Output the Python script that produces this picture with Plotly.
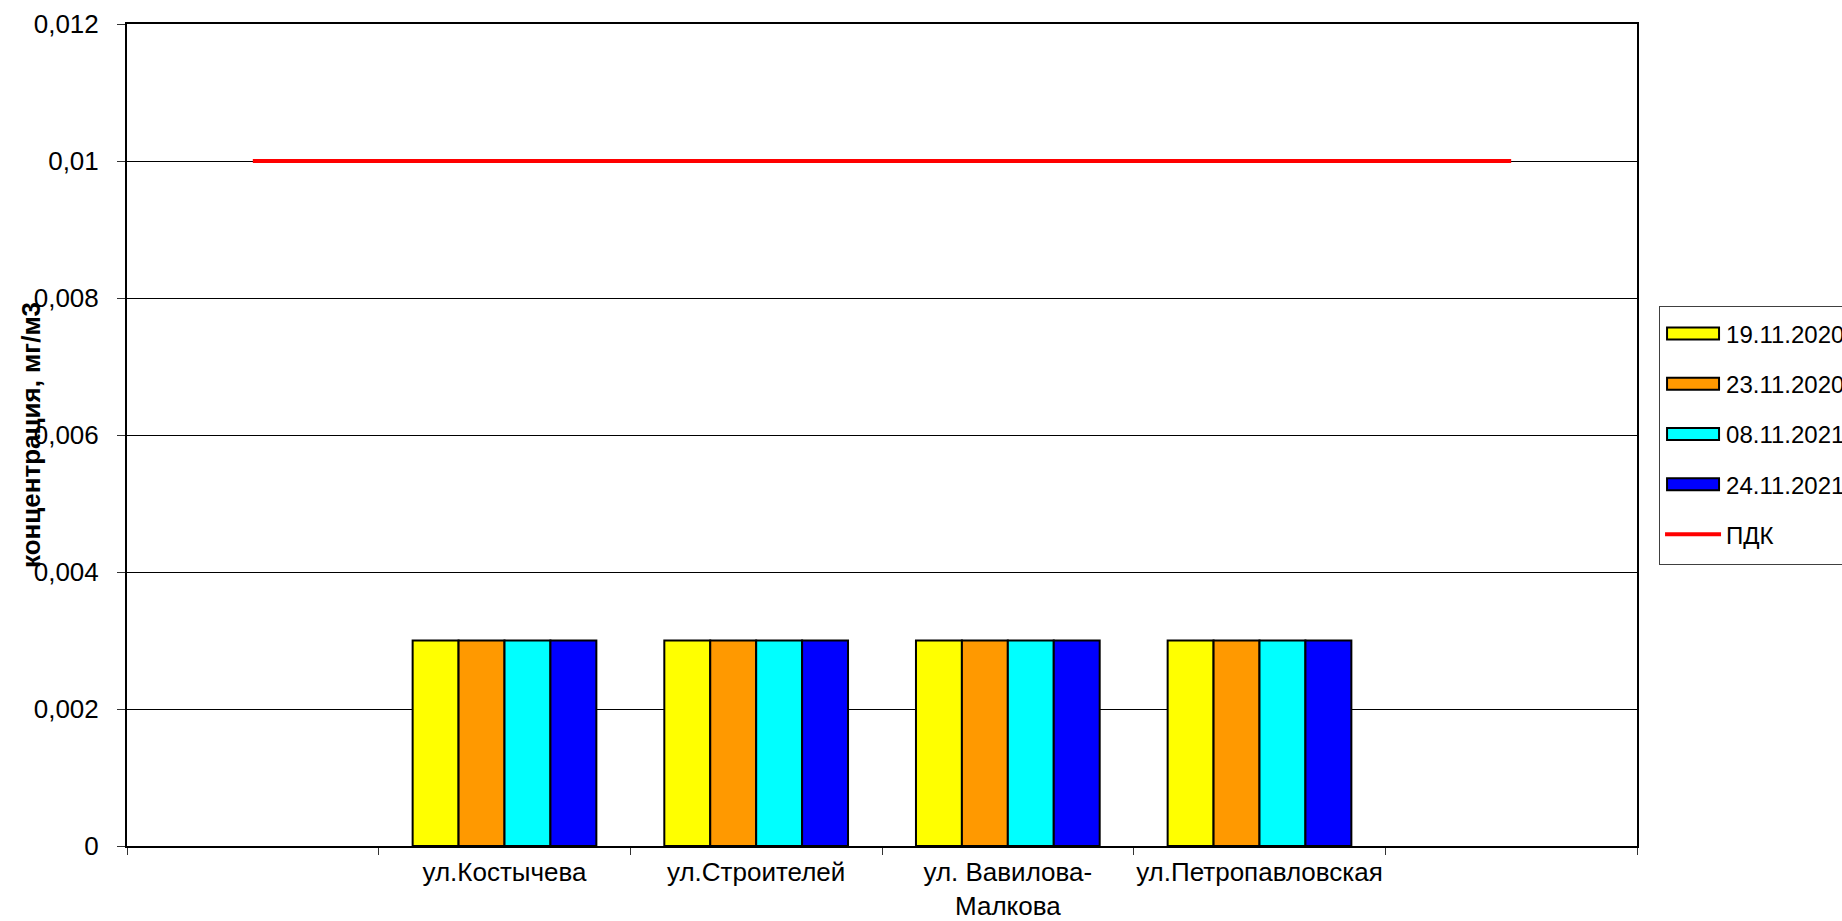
import plotly.graph_objects as go

# ---- data ----
categories = [" ", "ул.Костычева", "ул.Строителей", "ул. Вавилова-<br>Малкова", "ул.Петропавловская", "  "]
series_names = ["19.11.2020", "23.11.2020", "08.11.2021", "24.11.2021"]
s_19_11_2020 = [None, 0.003, 0.003, 0.003, 0.003, None]
s_23_11_2020 = [None, 0.003, 0.003, 0.003, 0.003, None]
s_08_11_2021 = [None, 0.003, 0.003, 0.003, 0.003, None]
s_24_11_2021 = [None, 0.003, 0.003, 0.003, 0.003, None]
pdk_values = [0.01, 0.01, 0.01, 0.01, 0.01, 0.01]
y_tickvals = [0, 0.002, 0.004, 0.006, 0.008, 0.01, 0.012]
y_ticktext = ["0", "0,002", "0,004", "0,006", "0,008", "0,01", "0,012"]

series_values = [s_19_11_2020, s_23_11_2020, s_08_11_2021, s_24_11_2021]
colors = ["#FFFF00", "#FF9900", "#00FFFF", "#0000FF"]

FONT = "Liberation Sans, Arial, sans-serif"
FS = 26
LFS = 24

fig = go.Figure()
for i, (name, vals, col) in enumerate(zip(series_names, series_values, colors)):
    fig.add_trace(go.Bar(
        x=categories, y=vals, name=name,
        marker=dict(color=col, line=dict(color="black", width=2)),
        legendgroup=f"g{i}",
    ))
fig.add_trace(go.Scatter(
    x=categories, y=pdk_values, name="ПДК", mode="lines",
    line=dict(color="#FF0000", width=4), legendgroup="g4",
))

fig.update_layout(
    width=1842, height=921,
    margin=dict(l=127, r=205, t=24, b=75, autoexpand=False),
    paper_bgcolor="white", plot_bgcolor="white",
    barmode="group", bargap=0.27, bargroupgap=0,
    font=dict(family=FONT, size=FS, color="black"),
    showlegend=True,
    legend=dict(
        x=1.0146, xanchor="left", y=0.6515, yanchor="top",
        bordercolor="#404040", borderwidth=1, bgcolor="white",
        font=dict(family=FONT, size=LFS, color="black"),
        tracegroupgap=16, traceorder="grouped", itemwidth=56,
    ),
)

fig.update_xaxes(
    type="category", categoryorder="array", categoryarray=categories,
    tickson="boundaries", ticks="outside", ticklen=7, tickcolor="#333", tickwidth=1,
    showline=True, linecolor="black", linewidth=2, mirror=True,
    showgrid=False, tickfont=dict(family=FONT, size=FS, color="black"),
    ticklabelstandoff=2, tickangle=0,
)
fig.update_yaxes(
    range=[0, 0.012], tickmode="array", tickvals=y_tickvals, ticktext=y_ticktext,
    ticks="outside", ticklen=8, tickcolor="#333", tickwidth=1,
    showline=True, linecolor="black", linewidth=2, mirror=True,
    showgrid=True, gridcolor="black", gridwidth=1, zeroline=False,
    tickfont=dict(family=FONT, size=FS, color="black"),
    ticklabelstandoff=13,
)

fig.add_annotation(
    text="<b>концентрация, мг/м3</b>", textangle=-90,
    xref="paper", yref="paper", x=-0.0636, y=0.5,
    xanchor="center", yanchor="middle", showarrow=False,
    font=dict(family=FONT, size=FS, color="black"),
)

# remove page margin; widen the bar legend swatches; add inner padding to the legend box
post_js = """
document.body.style.margin = '0';
document.body.style.overflow = 'hidden';
var gd = document.getElementsByClassName('plotly-graph-div')[0];
function restyleLegend(){
  gd.querySelectorAll('.legend .traces').forEach(function(tr){
    tr.querySelectorAll('.legendpoints path').forEach(function(p){
      var d = p.getAttribute('d') || '';
      if (/^M6,6H-6V-6H6Z$/.test(d)) { p.setAttribute('d','M26,6H-26V-6H26Z'); p.setAttribute('transform','translate(33,0)'); }
    });
  });
  var bg = gd.querySelector('.legend rect.bg');
  if (bg && !bg.getAttribute('data-padded')) {
    var y = parseFloat(bg.getAttribute('y') || 0);
    var h = parseFloat(bg.getAttribute('height') || 0);
    bg.setAttribute('y', y - 4);
    bg.setAttribute('height', h + 12);
    bg.setAttribute('data-padded', '1');
  }
}
restyleLegend();
gd.on && gd.on('plotly_afterplot', restyleLegend);
"""

fig.write_html("out.html", post_script=post_js, config={"displayModeBar": False})
